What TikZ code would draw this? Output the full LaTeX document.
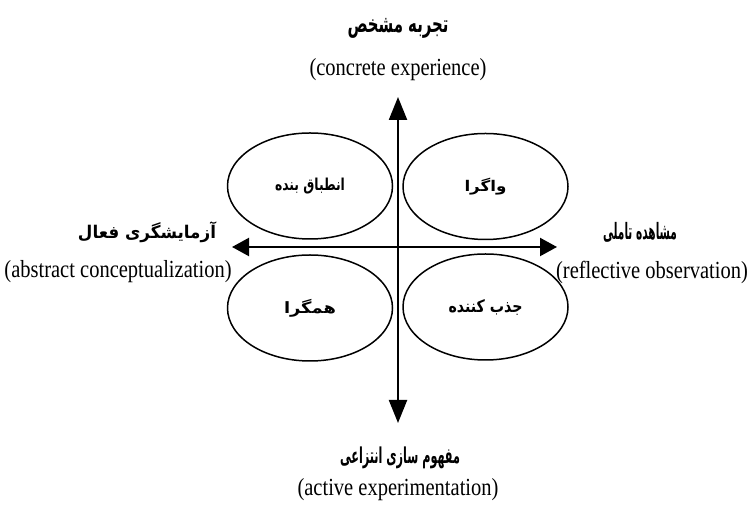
\documentclass[tikz,border=0pt]{standalone}
\usepackage{fontspec}
\setmainfont{Liberation Serif}
\newfontfamily\fafont[Script=Arabic]{DejaVu Sans}
\TeXXeTstate=1
\usetikzlibrary{arrows.meta,shapes.geometric}
\newcommand{\entxt}[1]{\scalebox{1}[1.2]{#1}}
\newcommand{\fabox}[3]{\resizebox*{#1}{#2}{#3}}
\begin{document}
\begin{tikzpicture}[x=1pt,y=1pt,
  en/.style={font=\fontsize{20.5}{24}\selectfont, inner sep=0pt},
  falbl/.style={font=\fafont\bfseries\fontsize{14}{16}\selectfont, inner sep=0pt},
  ell/.style={draw, ellipse, line width=1.5pt, minimum width=165pt, minimum height=106pt, inner sep=0pt, font=\fafont\bfseries\fontsize{14}{16}\selectfont},
  axisline/.style={line width=2.2pt}]
\useasboundingbox (0,0) rectangle (749,510);
% ellipses
\node[ell] (tl) at (310,324) {\fabox{70pt}{16pt}{\beginR انطباق بنده\endR}};
\node[ell] (tr) at (485.5,323.5) {\fabox{42pt}{17pt}{\beginR واگرا\endR}};
\node[ell] (bl) at (310,202) {\fabox{52pt}{18pt}{\beginR همگرا\endR}};
\node[ell] (br) at (485.5,203) {\fabox{74pt}{16pt}{\beginR جذب کننده\endR}};
% axis ends
\coordinate (axtop) at (398,413);
\coordinate (axbot) at (398,87);
\coordinate (axleft) at (232,263);
\coordinate (axright) at (557,263);
\draw[axisline, {Triangle[length=23pt,width=18pt]}-{Triangle[length=23pt,width=18pt]}] (axbot) -- (axtop);
\draw[axisline, {Triangle[length=17pt,width=18pt]}-{Triangle[length=17pt,width=18pt]}] (axleft) -- (axright);
% labels
\node[falbl] (topfa) at (398,482) {\fabox{101pt}{20pt}{\beginR تجربه مشخص\endR}};
\node[en] (topen) at (398,440) {\entxt{(concrete experience)}};
\node[falbl] (leftfa) at (147,278) {\fabox{138pt}{21pt}{\beginR آزمایشگری فعال\endR}};
\node[en] (leften) at (118,238) {\entxt{(abstract conceptualization)}};
\node[falbl] (rightfa) at (640,278) {\fabox{74pt}{20pt}{\beginR مشاهده تاملی\endR}};
\node[en] (righten) at (652,238) {\entxt{(reflective observation)}};
\node[falbl] (botfa) at (400,52) {\fabox{120pt}{22pt}{\beginR مفهوم سازی انتزاعی\endR}};
\node[en] (boten) at (398,20) {\entxt{(active experimentation)}};
\end{tikzpicture}
\end{document}
